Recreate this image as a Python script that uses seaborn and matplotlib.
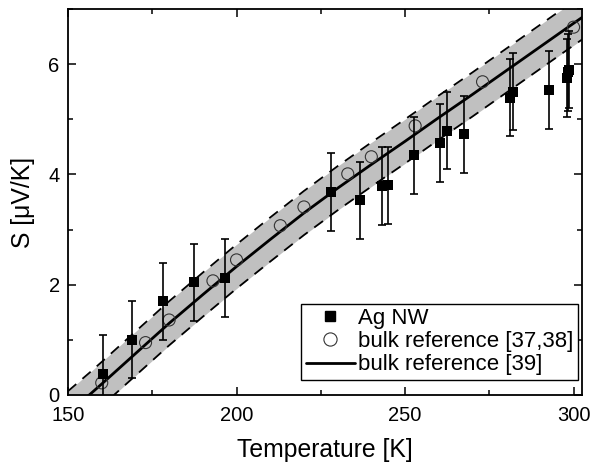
import matplotlib
matplotlib.use("Agg")
import matplotlib.pyplot as plt
import matplotlib.lines as mlines
import numpy as np
import pandas as pd
import seaborn as sns

# Ag nanowire data (with +-0.7 error bars)
nw_T = [160.5, 169.0, 178.3, 187.5, 196.6, 228.0, 236.6, 243.1, 245.0, 252.8,
        260.4, 262.5, 267.6, 281.0, 282.1, 292.6, 298.0, 298.3, 298.6]
nw_S = [0.38, 1.00, 1.70, 2.04, 2.12, 3.68, 3.53, 3.79, 3.80, 4.35,
        4.57, 4.79, 4.73, 5.39, 5.50, 5.53, 5.75, 5.85, 5.90]
nw_err = [0.7] * len(nw_T)

# bulk reference [37,38]
ref_T = [160, 173, 180, 193, 200, 213, 220, 233, 240, 253, 273, 300]
ref_S = [0.22, 0.95, 1.36, 2.07, 2.45, 3.07, 3.41, 4.01, 4.32, 4.88, 5.68, 6.67]

# bulk reference [39] (curve) and its uncertainty band
line_T = [150, 156.3, 160, 170, 180, 190, 200, 210, 220, 230, 240, 250, 260, 270, 280, 290, 300, 305]
line_S = [-0.33, 0.0, 0.20, 0.75, 1.30, 1.82, 2.33, 2.82, 3.30, 3.75, 4.18, 4.60, 5.03, 5.45, 5.88, 6.31, 6.74, 6.95]
band = 0.4

sns.set_style("ticks")
plt.rcParams['font.family'] = ['Liberation Sans', 'DejaVu Sans']
plt.rcParams['text.color'] = 'black'
plt.rcParams['axes.labelcolor'] = 'black'

fig = plt.figure(figsize=(5.9, 4.63), dpi=100)
ax = fig.add_axes([0.1153, 0.1469, 0.9864 - 0.1153, 0.9806 - 0.1469])

lT = np.array(line_T)
lS = np.array(line_S)
ax.fill_between(lT, lS - band, lS + band, color='#c0c0c0', lw=0, zorder=1)
ax.plot(lT, lS + band, color='black', lw=1.3, ls=(0, (6, 4.5)), zorder=2)
ax.plot(lT, lS - band, color='black', lw=1.3, ls=(0, (6, 4.5)), zorder=2)

df_line = pd.DataFrame({'T': line_T, 'S': line_S})
sns.lineplot(data=df_line, x='T', y='S', color='black', lw=2, ax=ax, zorder=3, sort=False)

df_ref = pd.DataFrame({'T': ref_T, 'S': ref_S})
sns.scatterplot(data=df_ref, x='T', y='S', marker='o', s=75, facecolor='none',
                edgecolor='#333333', linewidth=0.8, ax=ax, zorder=4)

ax.errorbar(nw_T, nw_S, yerr=nw_err, fmt='none', ecolor='black', elinewidth=1.2,
            capsize=3, capthick=1.2, zorder=5)
df_nw = pd.DataFrame({'T': nw_T, 'S': nw_S})
sns.scatterplot(data=df_nw, x='T', y='S', marker='s', s=55, color='black',
                edgecolor='black', linewidth=0, ax=ax, zorder=6)

ax.set_xlim(150, 302.5)
ax.set_ylim(0, 7)
ax.set_xticks([150, 200, 250, 300])
ax.set_xticks([175, 225, 275], minor=True)
ax.set_yticks([0, 2, 4, 6])
ax.set_yticks([1, 3, 5, 7], minor=True)
ax.tick_params(which='both', direction='in', top=True, right=True, width=1.1,
               labelsize=14.5, colors='black')
ax.tick_params(which='major', length=6)
ax.tick_params(which='minor', length=3.5)
ax.tick_params(axis='x', which='major', pad=8)
ax.tick_params(axis='y', which='major', pad=6)
for sp in ax.spines.values():
    sp.set_linewidth(1.3)
    sp.set_color('black')

ax.set_xlabel('Temperature [K]', fontsize=17.8, labelpad=9, color='black')
ax.set_ylabel('S [μV/K]', fontsize=17.8, labelpad=10, color='black')

h1 = mlines.Line2D([], [], color='black', marker='s', ls='none', markersize=7.5)
h2 = mlines.Line2D([], [], color='#333333', marker='o', mfc='none', ls='none',
                   markersize=9.5, mew=0.8)
h3 = mlines.Line2D([], [], color='black', lw=2)
leg = ax.legend([h1, h2, h3], ['Ag NW', 'bulk reference [37,38]', 'bulk reference [39]'],
                loc='lower right', bbox_to_anchor=(0.992, 0.039), fontsize=16,
                frameon=True, fancybox=False, edgecolor='black', framealpha=1,
                labelspacing=0.1, handlelength=2.2, handletextpad=0.15,
                borderpad=0.2, borderaxespad=0, labelcolor='black')
leg.get_frame().set_linewidth(1.0)

fig.savefig('out.png', dpi=100)
